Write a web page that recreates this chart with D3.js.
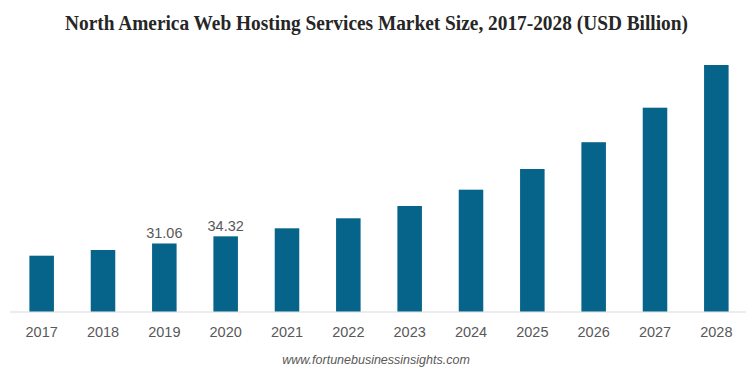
<!DOCTYPE html>
<html>
<head>
<meta charset="utf-8">
<script src="https://cdn.jsdelivr.net/npm/d3@7"></script>
<style>
  html, body { margin: 0; padding: 0; background: #fff; }
  #chart { width: 750px; height: 373px; }
</style>
</head>
<body>
<div id="chart"></div>
<script>
/* North America web hosting market size, 2017-2028 — simple column chart */

const years = ["2017", "2018", "2019", "2020", "2021", "2022", "2023", "2024", "2025", "2026", "2027", "2028"];
const values = [25.48, 28.08, 31.06, 34.32, 37.99, 42.56, 48.17, 55.62, 65.07, 77.3, 93.06, 112.56];
const labelledYears = ["2019", "2020"];

const W = 750, H = 373;
const margin = { top: 48.7, right: 3, bottom: 61.5, left: 11 };
const base = H - margin.bottom;

const svg = d3.select("#chart").append("svg")
  .attr("width", W).attr("height", H)
  .attr("viewBox", `0 0 ${W} ${H}`);

/* title is set in a tall, narrow serif in the source, so squeeze it to its width */
svg.append("text").attr("x", 376.5).attr("y", 29.5).attr("text-anchor", "middle")
  .attr("textLength", 623).attr("lengthAdjust", "spacingAndGlyphs")
  .style("font-family", "'Liberation Serif', 'Times New Roman', serif")
  .style("font-size", "20px").style("font-weight", "bold").style("fill", "#262626")
  .text("North America Web Hosting Services Market Size, 2017-2028 (USD Billion)");

const x = d3.scaleBand().domain(years).range([margin.left, W - margin.right])
  .paddingInner(0.6).paddingOuter(0.3);
const y = d3.scaleLinear().domain([0, 120]).range([base, margin.top]);

const data = years.map((yr, i) => ({ year: yr, value: values[i] }));

/* baseline */
svg.append("line").attr("x1", 10).attr("x2", 746)
  .attr("y1", base + 0.5).attr("y2", base + 0.5)
  .attr("stroke", "#d9d9d9").attr("stroke-width", 1);

svg.selectAll(".bar").data(data).enter().append("rect").attr("class", "bar")
  .attr("x", d => x(d.year)).attr("width", x.bandwidth())
  .attr("y", d => y(d.value)).attr("height", d => y(0) - y(d.value))
  .attr("fill", "#06648a");

/* value labels only on two bars, as in the source */
svg.selectAll(".val").data(data.filter(d => labelledYears.includes(d.year))).enter()
  .append("text").attr("class", "val")
  .attr("x", d => x(d.year) + x.bandwidth() / 2)
  .attr("y", d => y(d.value) - 5)
  .attr("text-anchor", "middle")
  .style("font-family", "'Liberation Sans', Arial, sans-serif")
  .style("font-size", "14.5px").style("fill", "#595959")
  .text(d => d.value.toFixed(2));

/* x axis labels */
const xAxis = svg.append("g").attr("transform", `translate(0,${base})`)
  .call(d3.axisBottom(x).tickSize(0).tickPadding(15));
xAxis.select(".domain").remove();
xAxis.selectAll("text")
  .style("font-family", "'Liberation Sans', Arial, sans-serif")
  .style("font-size", "14.5px").style("fill", "#595959");

svg.append("text").attr("x", 376).attr("y", 364).attr("text-anchor", "middle")
  .style("font-family", "'Liberation Sans', Arial, sans-serif")
  .style("font-size", "12.5px").style("font-style", "italic").style("fill", "#595959")
  .text("www.fortunebusinessinsights.com");
</script>
</body>
</html>
